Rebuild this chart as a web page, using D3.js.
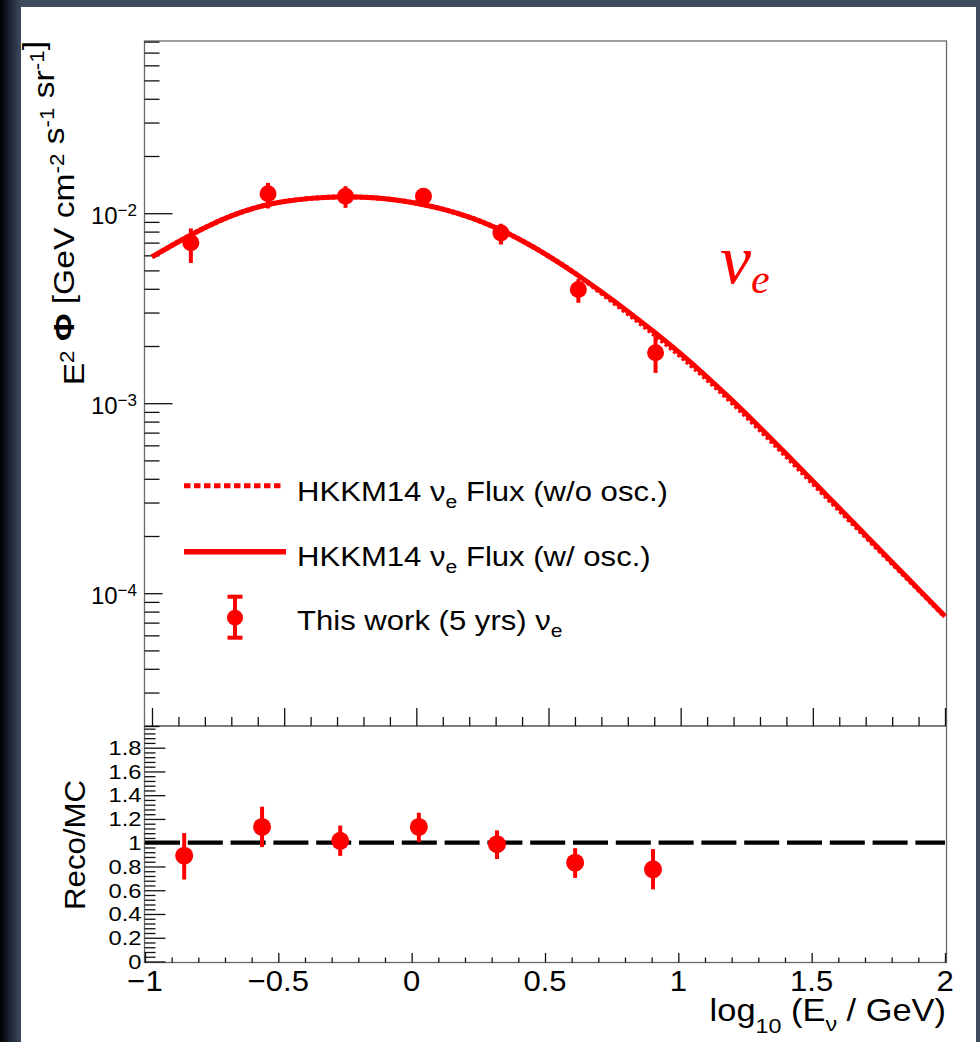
<!DOCTYPE html>
<html>
<head>
<meta charset="utf-8">
<script src="https://cdn.jsdelivr.net/npm/d3@7"></script>
<style>
  html, body { margin: 0; padding: 0; background: #3e4b5d; }
  svg { display: block; }
  text { font-family: "Liberation Sans", Arial, Helvetica, sans-serif; fill: #000; }
</style>
</head>
<body>
<svg id="chart" width="980" height="1042"></svg>
<script>
// ---- data -------------------------------------------------------------
// centres of the log10(E/GeV) bins of the measurement
const binCenters = [-0.853, -0.561, -0.268, 0.027, 0.320, 0.613, 0.905];
// unfolded E^2 Phi [GeV cm^-2 s^-1 sr^-1] with upper / lower error bounds
const fluxData = [6.98e-3, 1.264e-2, 1.229e-2, 1.229e-2, 7.87e-3, 3.966e-3, 1.841e-3];
const fluxHigh = [8.31e-3, 1.443e-2, 1.387e-2, 1.306e-2, 8.80e-3, 4.50e-3, 2.254e-3];
const fluxLow  = [5.47e-3, 1.059e-2, 1.067e-2, 1.111e-2, 6.84e-3, 3.376e-3, 1.443e-3];
// ratio of the measurement to the MC expectation
const ratio     = [0.891, 1.133, 1.016, 1.133, 0.988, 0.832, 0.776];
const ratioHigh = [1.082, 1.303, 1.144, 1.252, 1.104, 0.954, 0.946];
const ratioLow  = [0.690, 0.963, 0.889, 1.005, 0.863, 0.704, 0.608];
// HKKM14 nu_e model flux sampled in log10(E/GeV)
const modelLogE = [-1.0, -0.9, -0.8, -0.7, -0.6, -0.5, -0.4, -0.3, -0.2, -0.1, 0.0,
                   0.1, 0.2, 0.3, 0.4, 0.5, 0.6, 0.7, 0.8, 0.9, 1.0,
                   1.1, 1.2, 1.3, 1.4, 1.5, 1.6, 1.7, 1.8, 1.9, 2.0];
const fluxOsc = [5.888e-3, 7.079e-3, 8.388e-3, 9.678e-3, 1.0767e-2, 1.1524e-2, 1.1966e-2, 1.2185e-2, 1.2141e-2, 1.1850e-2, 1.1288e-2,
                 1.0498e-2, 9.526e-3, 8.388e-3, 7.165e-3, 5.952e-3, 4.832e-3, 3.858e-3, 3.042e-3, 2.369e-3, 1.820e-3,
                 1.373e-3, 1.0195e-3, 7.457e-4, 5.401e-4, 3.896e-4, 2.805e-4, 2.021e-4, 1.456e-4, 1.050e-4, 7.567e-5];
const fluxNoOsc = [5.888e-3, 7.079e-3, 8.388e-3, 9.678e-3, 1.0767e-2, 1.1524e-2, 1.1966e-2, 1.2185e-2, 1.2141e-2, 1.1850e-2, 1.1288e-2,
                   1.0498e-2, 9.526e-3, 8.388e-3, 7.165e-3, 5.952e-3, 4.832e-3, 3.800e-3, 2.966e-3, 2.298e-3, 1.765e-3,
                   1.332e-3, 9.889e-4, 7.233e-4, 5.239e-4, 3.779e-4, 2.735e-4, 1.981e-4, 1.434e-4, 1.040e-4, 7.529e-5];
// axis ticks and labels
const xMajorTicks = [-1, -0.5, 0, 0.5, 1, 1.5, 2];
const xTickLabels = ["\u22121", "\u22120.5", "0", "0.5", "1", "1.5", "2"];
const logMajorTicks = [1e-2, 1e-3, 1e-4];
const logTickExponents = ["\u22122", "\u22123", "\u22124"];
const ratioMajorTicks = [0, 0.2, 0.4, 0.6, 0.8, 1, 1.2, 1.4, 1.6, 1.8];
const ratioTickLabels = ["0", "0.2", "0.4", "0.6", "0.8", "1", "1.2", "1.4", "1.6", "1.8"];
const legendLabels = ["HKKM14 ", " Flux (w/o osc.)", " Flux (w/ osc.)", "This work (5 yrs) "];

// ---- layout -----------------------------------------------------------
const RED = "#ff0000";
const frame = { left: 144.5, right: 946.5, top: 41, mid: 726, bottom: 962.5 };
const WIDE = 1.11;   // horizontal stretch of the sans-serif labels

const svg = d3.select("#chart");

// page backdrop: slate border with a dark left edge and a white sheet
const defs = svg.append("defs");
const edge = defs.append("linearGradient").attr("id", "edge").attr("x1", 0).attr("x2", 1).attr("y1", 0).attr("y2", 0);
edge.append("stop").attr("offset", "0%").attr("stop-color", "#000");
edge.append("stop").attr("offset", "45%").attr("stop-color", "#1a2230");
edge.append("stop").attr("offset", "100%").attr("stop-color", "#3e4b5d");
svg.append("rect").attr("width", 980).attr("height", 1042).attr("fill", "#3e4b5d");
svg.append("rect").attr("x", 0).attr("y", 0).attr("width", 21).attr("height", 1042).attr("fill", "url(#edge)");
svg.append("rect").attr("x", 21).attr("y", 7).attr("width", 955).attr("height", 1035).attr("fill", "#fff");

// scales
const xTop = d3.scaleLinear().domain([-1, 2]).range([152, 945]);
const yTop = d3.scaleLog().domain([2e-5, 0.08]).range([frame.mid, frame.top + 0.6]);
const xBot = d3.scaleLinear().domain([-1, 2]).range([145, 945]);
const yBot = d3.scaleLinear().domain([0, 1.98]).range([961.5, frame.mid + 0.3]);

// frames
svg.append("rect").attr("x", frame.left).attr("y", frame.top)
  .attr("width", frame.right - frame.left).attr("height", frame.mid - frame.top)
  .attr("fill", "none").attr("stroke", "#6a6a6a").attr("stroke-width", 1.3);
svg.append("rect").attr("x", frame.left).attr("y", frame.mid)
  .attr("width", frame.right - frame.left).attr("height", frame.bottom - frame.mid)
  .attr("fill", "none").attr("stroke", "#6a6a6a").attr("stroke-width", 1.3);

function styleAxis(g) {
  g.select(".domain").remove();
  g.selectAll(".tick line").attr("stroke", "#111").attr("stroke-width", 1.3);
}

// ---- top panel axes ----------------------------------------------------
const logMinor = yTop.ticks().filter(v => !logMajorTicks.some(m => Math.abs(m - v) / m < 1e-6));
svg.append("g").attr("transform", `translate(${frame.left},0)`)
  .call(d3.axisLeft(yTop).tickValues(logMinor).tickSize(-15).tickFormat(""))
  .call(styleAxis);
svg.append("g").attr("transform", `translate(${frame.left},0)`)
  .call(d3.axisLeft(yTop).tickValues(logMajorTicks.slice(0, 2)).tickSize(-28).tickFormat(""))
  .call(styleAxis);
svg.append("g").attr("transform", `translate(${frame.left},0)`)
  .call(d3.axisLeft(yTop).tickValues(logMajorTicks.slice(2)).tickSize(-18).tickFormat(""))
  .call(styleAxis);

// power-of-ten labels
const logLab = svg.append("g").selectAll("text").data(logMajorTicks).join("text")
  .attr("x", 137).attr("y", d => yTop(d) + 10.5)
  .attr("text-anchor", "end").style("font-size", "24px");
logLab.append("tspan").text("10");
logLab.append("tspan").attr("dy", -7.5).style("font-size", "17px").text((d, i) => logTickExponents[i]);

// ticks along the bottom edge of the top panel
const xMinorVals = d3.range(-10, 21).map(i => i / 10).filter(v => !xMajorTicks.some(m => Math.abs(m - v) < 1e-9));
svg.append("g").attr("transform", `translate(0,${frame.mid})`)
  .call(d3.axisBottom(xTop).tickValues(xMinorVals).tickSize(-9).tickFormat(""))
  .call(styleAxis);
svg.append("g").attr("transform", `translate(0,${frame.mid})`)
  .call(d3.axisBottom(xTop).tickValues(xMajorTicks).tickSize(-18).tickFormat(""))
  .call(styleAxis);

// y title of the top panel
const yTitle = svg.append("text")
  .attr("transform", `translate(84,${frame.top}) rotate(-90) scale(1.12,1)`)
  .attr("text-anchor", "end").style("font-size", "30px");
const sup = (parent, s) => {
  parent.append("tspan").attr("dy", -10).style("font-size", "20px").text(s);
  parent.append("tspan").attr("dy", 10).text("");
};
yTitle.append("tspan").text("E");
sup(yTitle, "2");
yTitle.append("tspan").text(" ");
yTitle.append("tspan").style("font-weight", "bold").text("\u03A6");
yTitle.append("tspan").text(" [GeV cm");
sup(yTitle, "-2");
yTitle.append("tspan").text(" s");
sup(yTitle, "-1");
yTitle.append("tspan").text(" sr");
sup(yTitle, "-1");
yTitle.append("tspan").text("]");

// ---- model curves ------------------------------------------------------
const modelLine = d3.line().x((d, i) => xTop(modelLogE[i])).y(d => yTop(d)).curve(d3.curveNatural);
svg.append("path").datum(fluxNoOsc).attr("d", modelLine)
  .attr("fill", "none").attr("stroke", RED).attr("stroke-width", 5).attr("stroke-dasharray", "3,2.5");
svg.append("path").datum(fluxOsc).attr("d", modelLine)
  .attr("fill", "none").attr("stroke", RED).attr("stroke-width", 5);

// ---- measured points ---------------------------------------------------
const pts = svg.append("g");
pts.selectAll("line").data(binCenters).join("line")
  .attr("x1", d => xTop(d)).attr("x2", d => xTop(d))
  .attr("y1", (d, i) => yTop(fluxHigh[i])).attr("y2", (d, i) => yTop(fluxLow[i]))
  .attr("stroke", RED).attr("stroke-width", 4);
pts.selectAll("circle").data(binCenters).join("circle")
  .attr("cx", d => xTop(d)).attr("cy", (d, i) => yTop(fluxData[i])).attr("r", 8.5)
  .attr("fill", RED);

// flavour label
const nuLab = svg.append("text").attr("x", 720).attr("y", 283)
  .style("font-family", "'Liberation Serif', 'Times New Roman', serif").style("font-style", "italic")
  .style("fill", RED).style("font-size", "70px");
nuLab.append("tspan").text("\u03BD");
nuLab.append("tspan").attr("dy", 10).style("font-size", "42px").text("e");

// ---- legend ------------------------------------------------------------
const leg = svg.append("g");
leg.append("line").attr("x1", 184).attr("x2", 284).attr("y1", 485.7).attr("y2", 485.7)
  .attr("stroke", RED).attr("stroke-width", 5).attr("stroke-dasharray", "6.5,3.5");
leg.append("line").attr("x1", 184).attr("x2", 286).attr("y1", 551.7).attr("y2", 551.7)
  .attr("stroke", RED).attr("stroke-width", 5.5);
leg.append("line").attr("x1", 235).attr("x2", 235).attr("y1", 596.7).attr("y2", 637.7)
  .attr("stroke", RED).attr("stroke-width", 4);
leg.append("line").attr("x1", 227.5).attr("x2", 242.5).attr("y1", 596.7).attr("y2", 596.7)
  .attr("stroke", RED).attr("stroke-width", 4);
leg.append("line").attr("x1", 227.5).attr("x2", 242.5).attr("y1", 637.7).attr("y2", 637.7)
  .attr("stroke", RED).attr("stroke-width", 4);
leg.append("circle").attr("cx", 235).attr("cy", 617.7).attr("r", 8).attr("fill", RED);

function nuE(t, size) {
  t.append("tspan").text("\u03BD");
  t.append("tspan").attr("dy", 7).style("font-size", size + "px").text("e");
}
const legRows = [
  { y: 501, after: legendLabels[1], before: legendLabels[0] },
  { y: 566, after: legendLabels[2], before: legendLabels[0] },
  { y: 630, after: "", before: legendLabels[3] }
];
legRows.forEach(r => {
  const t = leg.append("text").attr("transform", `translate(297,${r.y}) scale(${WIDE},1)`)
    .style("font-size", "28px");
  t.append("tspan").text(r.before);
  nuE(t, 19);
  if (r.after) t.append("tspan").attr("dy", -7).text(r.after);
});

// ---- ratio panel -------------------------------------------------------
const rMinor = d3.range(0, 50).map(i => i * 0.04).filter(v => v <= 1.98 && Math.abs(v / 0.2 - Math.round(v / 0.2)) > 1e-6);
svg.append("g").attr("transform", `translate(${frame.left},0)`)
  .call(d3.axisLeft(yBot).tickValues(rMinor).tickSize(-11).tickFormat(""))
  .call(styleAxis);
svg.append("g").attr("transform", `translate(${frame.left},0)`)
  .call(d3.axisLeft(yBot).tickValues(ratioMajorTicks).tickSize(-21).tickPadding(4)
    .tickFormat((d, i) => ratioTickLabels[i]))
  .call(styleAxis)
  .call(g => g.selectAll("text").attr("x", null).attr("dy", null)
    .attr("transform", "translate(-3,6.8) scale(1.13,1)")
    .style("font-size", "21px").style("font-family", "'Liberation Sans', Arial, sans-serif").attr("fill", "#000"));

svg.append("g").attr("transform", `translate(0,${frame.bottom})`)
  .call(d3.axisBottom(xBot).tickValues(xMinorVals).tickSize(-5).tickFormat(""))
  .call(styleAxis);
svg.append("g").attr("transform", `translate(0,${frame.bottom})`)
  .call(d3.axisBottom(xBot).tickValues(xMajorTicks).tickSize(-9.5)
    .tickFormat((d, i) => xTickLabels[i]))
  .call(styleAxis)
  .call(g => g.selectAll("text").attr("y", null).attr("dy", null)
    .attr("transform", "translate(-0.5,28) scale(1.07,1)")
    .style("font-size", "29px").style("font-family", "'Liberation Sans', Arial, sans-serif").attr("fill", "#000"));

// reference line at ratio = 1
svg.append("line").attr("x1", xBot(-1)).attr("x2", xBot(2)).attr("y1", yBot(1)).attr("y2", yBot(1))
  .attr("stroke", "#000").attr("stroke-width", 4.3).attr("stroke-dasharray", "35,7.8");

const rp = svg.append("g");
rp.selectAll("line").data(binCenters).join("line")
  .attr("x1", d => xBot(d)).attr("x2", d => xBot(d))
  .attr("y1", (d, i) => yBot(ratioHigh[i])).attr("y2", (d, i) => yBot(ratioLow[i]))
  .attr("stroke", RED).attr("stroke-width", 4);
rp.selectAll("circle").data(binCenters).join("circle")
  .attr("cx", d => xBot(d)).attr("cy", (d, i) => yBot(ratio[i])).attr("r", 9)
  .attr("fill", RED);

svg.append("text").attr("transform", "translate(85,845) rotate(-90) scale(1.04,1)")
  .attr("text-anchor", "middle").style("font-size", "30px").text("Reco/MC");

// x title
const xTitle = svg.append("text").attr("transform", `translate(946,1021) scale(${WIDE},1)`)
  .attr("text-anchor", "end").style("font-size", "31px");
xTitle.append("tspan").text("log");
xTitle.append("tspan").attr("dy", 12).style("font-size", "21px").text("10");
xTitle.append("tspan").attr("dy", -12).text(" (E");
xTitle.append("tspan").attr("dy", 10).style("font-size", "21px").text("\u03BD");
xTitle.append("tspan").attr("dy", -10).text(" / GeV)");
</script>
</body>
</html>
